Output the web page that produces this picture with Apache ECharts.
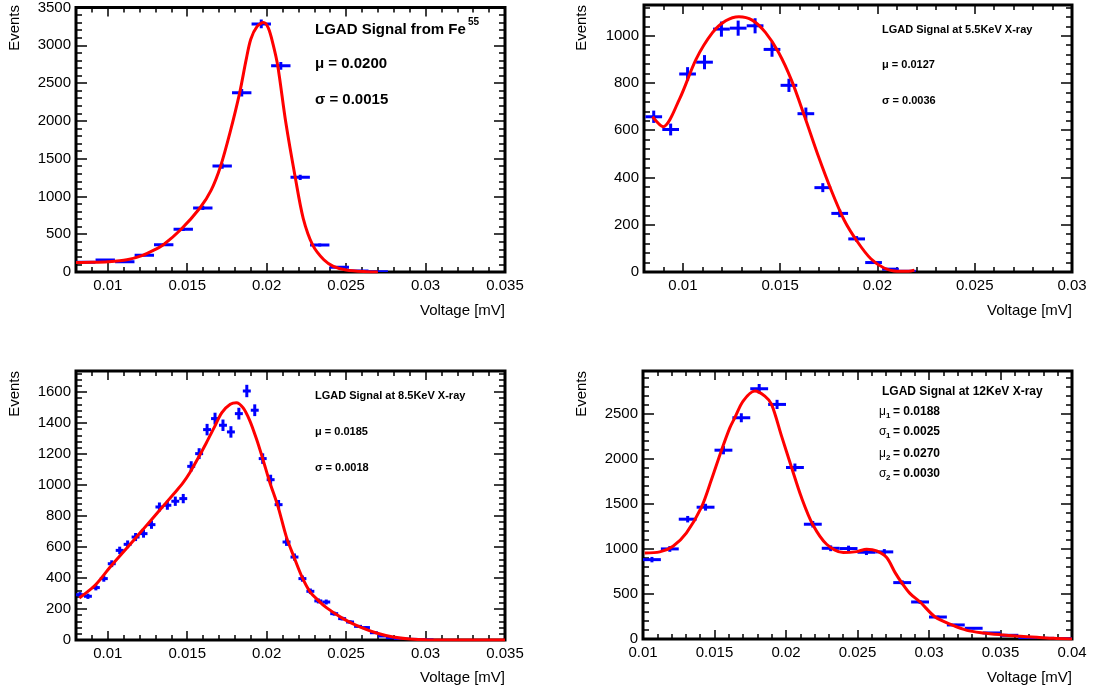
<!DOCTYPE html>
<html><head><meta charset="utf-8">
<script src="https://cdn.jsdelivr.net/npm/echarts@6/dist/echarts.min.js"></script>
<style>html,body{margin:0;padding:0;background:#fff}#c{width:1094px;height:695px}</style>
</head><body><div id="c"></div>
<script>
// ---------- Panel 1: LGAD Signal from Fe55 ----------
const p1X = [0.00861, 0.00984, 0.01107, 0.01230, 0.01352, 0.01475, 0.01598, 0.01720, 0.01843, 0.01966, 0.02089, 0.02211, 0.02334, 0.02457, 0.02580, 0.02702];
const p1Y = [130, 160, 136, 222, 362, 565, 848, 1402, 2372, 3283, 2728, 1253, 358, 64, 12, 4];
const p1YErr = [11, 13, 12, 15, 19, 24, 29, 37, 49, 57, 52, 35, 19, 8, 3, 2];
const p1XErr = 0.00061;
const p1CurveX = [0.0080, 0.0090, 0.0100, 0.0112, 0.0122, 0.0130, 0.0135, 0.0146, 0.0158, 0.0165, 0.0171, 0.0177, 0.0183, 0.0187, 0.0190, 0.0194, 0.0198, 0.0201, 0.0204, 0.0207, 0.0212, 0.0218, 0.0223, 0.0229, 0.0236, 0.0242, 0.0250, 0.0263, 0.0270];
const p1CurveY = [125, 128, 136, 162, 220, 300, 360, 562, 847, 1080, 1400, 1850, 2370, 2800, 3081, 3250, 3300, 3230, 3016, 2726, 1984, 1251, 711, 356, 162, 75, 26, 3, 0];

// ---------- Panel 2: 5.5 KeV X-ray ----------
const p2X = [0.00850, 0.00937, 0.01024, 0.01111, 0.01198, 0.01284, 0.01371, 0.01458, 0.01545, 0.01632, 0.01719, 0.01806, 0.01893, 0.01980, 0.02067, 0.02154];
const p2Y = [657, 603, 838, 888, 1028, 1032, 1042, 942, 790, 670, 357, 248, 140, 40, 12, 3];
const p2YErr = [26, 25, 29, 30, 32, 32, 32, 31, 28, 26, 19, 16, 12, 6, 3, 2];
const p2XErr = 0.00043;
const p2CurveX = [0.00844, 0.00898, 0.00983, 0.01068, 0.01153, 0.01220, 0.01288, 0.01356, 0.01424, 0.01492, 0.01559, 0.01627, 0.01695, 0.01763, 0.01830, 0.01898, 0.01966, 0.02034, 0.02100, 0.02160, 0.02190];
const p2CurveY = [657, 615, 733, 901, 1014, 1063, 1080, 1066, 1014, 929, 810, 655, 493, 345, 218, 127, 56, 17, 3, 3, 8];

// ---------- Panel 3: 8.5 KeV X-ray ----------
const p3X = [0.00825, 0.00875, 0.00925, 0.00975, 0.01025, 0.01075, 0.01125, 0.01175, 0.01225, 0.01275, 0.01325, 0.01375, 0.01425, 0.01475, 0.01525, 0.01575, 0.01625, 0.01675, 0.01725, 0.01775, 0.01825, 0.01875, 0.01925, 0.01975, 0.02025, 0.02075, 0.02125, 0.02175, 0.02225, 0.02275, 0.02325, 0.02375, 0.02425, 0.02475, 0.02525, 0.02575, 0.02625, 0.02675, 0.02725, 0.02775, 0.02825, 0.02875, 0.02925, 0.02975, 0.03025];
const p3Y = [292, 282, 338, 396, 492, 578, 617, 664, 686, 744, 858, 869, 895, 912, 1120, 1202, 1357, 1428, 1385, 1342, 1460, 1606, 1482, 1170, 1034, 873, 632, 535, 396, 314, 252, 245, 170, 138, 116, 88, 80, 47, 26, 15, 10, 6, 4, 2, 1];
const p3YErr = [17, 17, 18, 20, 22, 24, 25, 26, 26, 27, 29, 29, 30, 30, 33, 35, 37, 38, 37, 37, 38, 40, 38, 34, 32, 30, 25, 23, 20, 18, 16, 16, 13, 12, 11, 9, 9, 7, 5, 4, 3, 2, 2, 1, 1];
const p3XErr = 0.00025;
const p3CurveX = [0.00821, 0.00920, 0.01015, 0.01116, 0.01221, 0.01326, 0.01420, 0.01473, 0.01519, 0.01567, 0.01620, 0.01666, 0.01718, 0.01771, 0.01809, 0.01851, 0.01893, 0.01935, 0.01977, 0.02019, 0.02071, 0.02124, 0.02170, 0.02223, 0.02271, 0.02324, 0.02376, 0.02481, 0.02586, 0.02691, 0.02796, 0.02901, 0.03006, 0.03500];
const p3CurveY = [271, 353, 471, 589, 712, 837, 948, 1013, 1084, 1170, 1271, 1363, 1467, 1520, 1531, 1499, 1417, 1299, 1163, 1019, 862, 665, 540, 405, 314, 256, 209, 138, 84, 45, 19, 6, 2, 0];

// ---------- Panel 4: 12 KeV X-ray ----------
const p4X = [0.010625, 0.011875, 0.013125, 0.014375, 0.015625, 0.016875, 0.018125, 0.019375, 0.020625, 0.021875, 0.023125, 0.024375, 0.025625, 0.026875, 0.028125, 0.029375, 0.030625, 0.031875, 0.033125, 0.034375, 0.035625, 0.036875, 0.038125, 0.039375];
const p4Y = [881, 1000, 1330, 1463, 2096, 2456, 2778, 2604, 1904, 1274, 1007, 1004, 963, 967, 626, 411, 244, 156, 119, 67, 41, 15, 7, 3];
const p4YErr = [30, 32, 36, 38, 46, 50, 53, 51, 44, 36, 32, 32, 31, 31, 25, 20, 16, 12, 11, 8, 6, 4, 3, 2];
const p4XErr = 0.000625;
const p4CurveX = [0.01012, 0.01117, 0.01210, 0.01304, 0.01409, 0.01479, 0.01549, 0.01607, 0.01642, 0.01700, 0.01782, 0.01852, 0.01899, 0.01969, 0.02039, 0.02109, 0.02186, 0.02284, 0.02401, 0.02494, 0.02564, 0.02634, 0.02704, 0.02763, 0.02809, 0.02868, 0.02938, 0.03043, 0.03160, 0.03265, 0.03382, 0.03499, 0.03615, 0.03755, 0.03872, 0.04000];
const p4CurveY = [956, 967, 1030, 1178, 1463, 1770, 2096, 2344, 2456, 2641, 2752, 2696, 2604, 2252, 1904, 1567, 1274, 1052, 959, 970, 996, 978, 904, 737, 626, 504, 411, 244, 156, 96, 67, 48, 33, 19, 7, 0];

// ---------- Texts ----------
const xTitle = 'Voltage [mV]';
const yTitle = 'Events';

const FONT = "'Liberation Sans', Arial, Helvetica, sans-serif";

const panels = [
  {x:p1X, y:p1Y, ex:p1XErr, ey:p1YErr, cx:p1CurveX, cy:p1CurveY,
   xMin:0.008, xMax:0.035, xMajor:0.005, xMinor:0.001, yMax:3500, yMajor:500, yMinor:100,
   grid:{left:76, top:5, width:429, height:267}},
  {x:p2X, y:p2Y, ex:p2XErr, ey:p2YErr, cx:p2CurveX, cy:p2CurveY,
   xMin:0.008, xMax:0.030, xMajor:0.005, xMinor:0.001, yMax:1130, yMajor:200, yMinor:40,
   grid:{left:644, top:5, width:428, height:267}},
  {x:p3X, y:p3Y, ex:p3XErr, ey:p3YErr, cx:p3CurveX, cy:p3CurveY,
   xMin:0.008, xMax:0.035, xMajor:0.005, xMinor:0.001, yMax:1735, yMajor:200, yMinor:40,
   grid:{left:76, top:371, width:429, height:269}},
  {x:p4X, y:p4Y, ex:p4XErr, ey:p4YErr, cx:p4CurveX, cy:p4CurveY,
   xMin:0.010, xMax:0.040, xMajor:0.005, xMinor:0.001, yMax:2975, yMajor:500, yMinor:100,
   grid:{left:643, top:371, width:429, height:268}}
];

function isMult(v, step) { const r = v / step; return Math.abs(r - Math.round(r)) < 1e-6; }
function fmtX(step) { return v => isMult(v, step) ? String(+v.toFixed(4)) : ''; }
function fmtY(step) { return v => isMult(v, step) ? String(Math.round(v)) : ''; }

const lbl = {fontFamily: FONT, fontSize: 15, color: '#000'};
const grids = [], xAxes = [], yAxes = [], series = [];

panels.forEach((p, gi) => {
  grids.push(Object.assign({show: true, borderColor: '#000', borderWidth: 3, backgroundColor: 'transparent'}, p.grid));
  const xBase = xAxes.length, yBase = yAxes.length;
  ['bottom', 'top'].forEach(pos => {
    const ax = {gridIndex: gi, type: 'value', position: pos, min: p.xMin, max: p.xMax,
      axisLine: {show: false, onZero: false}, splitLine: {show: false},
      axisTick: {show: true, inside: true, length: 9, lineStyle: {color: '#000', width: 1.5}},
      axisLabel: pos === 'bottom' ? Object.assign({margin: 6, formatter: fmtX(p.xMajor)}, lbl) : {show: false}};
    if (isMult(p.xMin, p.xMajor)) ax.interval = p.xMajor; else ax.splitNumber = 5;
    xAxes.push(ax);
    xAxes.push({gridIndex: gi, type: 'value', position: pos, min: p.xMin, max: p.xMax, interval: p.xMinor,
      axisLine: {show: false, onZero: false}, splitLine: {show: false},
      axisTick: {show: true, inside: true, length: 5, lineStyle: {color: '#000', width: 1.5}},
      axisLabel: {show: false}});
  });
  ['left', 'right'].forEach(pos => {
    yAxes.push({gridIndex: gi, type: 'value', position: pos, min: 0, max: p.yMax, interval: p.yMajor,
      axisLine: {show: false, onZero: false}, splitLine: {show: false},
      axisTick: {show: true, inside: true, length: 11, lineStyle: {color: '#000', width: 1.5}},
      axisLabel: pos === 'left' ? Object.assign({margin: 5, formatter: fmtY(p.yMajor)}, lbl) : {show: false}});
    yAxes.push({gridIndex: gi, type: 'value', position: pos, min: 0, max: p.yMax, interval: p.yMinor,
      axisLine: {show: false, onZero: false}, splitLine: {show: false},
      axisTick: {show: true, inside: true, length: 6, lineStyle: {color: '#000', width: 1.5}},
      axisLabel: {show: false}});
  });
  series.push({
    type: 'custom', xAxisIndex: xBase, yAxisIndex: yBase, clip: true, z: 2,
    dimensions: ['x', 'y', 'ex', 'ey'], encode: {x: 'x', y: 'y'},
    data: p.x.map((xv, i) => [xv, p.y[i], p.ex, p.ey[i]]),
    renderItem: (params, api) => {
      const x = api.value(0), y = api.value(1), ex = api.value(2), ey = api.value(3);
      const a = api.coord([x - ex, y]), b = api.coord([x + ex, y]);
      const c = api.coord([x, y - ey]), d = api.coord([x, y + ey]);
      const st = {stroke: '#0000ff', lineWidth: 3};
      return {type: 'group', children: [
        {type: 'line', shape: {x1: a[0], y1: a[1], x2: b[0], y2: b[1]}, style: st},
        {type: 'line', shape: {x1: c[0], y1: c[1], x2: d[0], y2: d[1]}, style: st}
      ]};
    }
  });
  series.push({
    type: 'line', xAxisIndex: xBase, yAxisIndex: yBase, z: 3, clip: true,
    data: p.cx.map((xv, i) => [xv, p.cy[i]]), smooth: 0.3, symbol: 'none',
    lineStyle: {color: '#ff0000', width: 3}
  });
});

function txt(x, y, t, size, weight, align, rot) {
  return {type: 'text', x: x, y: y, rotation: rot || 0, z: 10,
    style: {text: t, fontFamily: FONT, fontSize: size, fontWeight: weight || 'bold', fill: '#000',
      align: align || 'left', verticalAlign: 'middle'}};
}

const graphics = [
  // axis titles
  txt(15, 5, yTitle, 15, 'normal', 'right', Math.PI / 2),
  txt(582, 5, yTitle, 15, 'normal', 'right', Math.PI / 2),
  txt(15, 371, yTitle, 15, 'normal', 'right', Math.PI / 2),
  txt(582, 371, yTitle, 15, 'normal', 'right', Math.PI / 2),
  txt(505, 311, xTitle, 15, 'normal', 'right'),
  txt(1072, 311, xTitle, 15, 'normal', 'right'),
  txt(505, 678, xTitle, 15, 'normal', 'right'),
  txt(1072, 678, xTitle, 15, 'normal', 'right'),
  // panel 1
  txt(315, 30, 'LGAD Signal from Fe', 15),
  txt(468, 22, '55', 10),
  txt(315, 64, 'μ = 0.0200', 15),
  txt(315, 100, 'σ = 0.0015', 15),
  // panel 2
  txt(882, 30, 'LGAD Signal at 5.5KeV X-ray', 11),
  txt(882, 65, 'μ = 0.0127', 11),
  txt(882, 101, 'σ = 0.0036', 11),
  // panel 3
  txt(315, 396, 'LGAD Signal at 8.5KeV X-ray', 11),
  txt(315, 432, 'μ = 0.0185', 11),
  txt(315, 468, 'σ = 0.0018', 11),
  // panel 4
  txt(882, 392, 'LGAD Signal at 12KeV X-ray', 12),
  txt(879, 412, 'μ', 12, 'normal'), txt(886, 416, '1', 8), txt(893, 412, '= 0.0188', 12),
  txt(879, 432, 'σ', 12, 'normal'), txt(886, 436, '1', 8), txt(893, 432, '= 0.0025', 12),
  txt(879, 454, 'μ', 12, 'normal'), txt(886, 458, '2', 8), txt(893, 454, '= 0.0270', 12),
  txt(879, 474, 'σ', 12, 'normal'), txt(886, 478, '2', 8), txt(893, 474, '= 0.0030', 12)
];

const chart = echarts.init(document.getElementById('c'), null, {renderer: 'canvas'});
chart.setOption({
  animation: false,
  backgroundColor: '#fff',
  grid: grids, xAxis: xAxes, yAxis: yAxes, series: series,
  graphic: graphics
});
</script>
</body></html>
